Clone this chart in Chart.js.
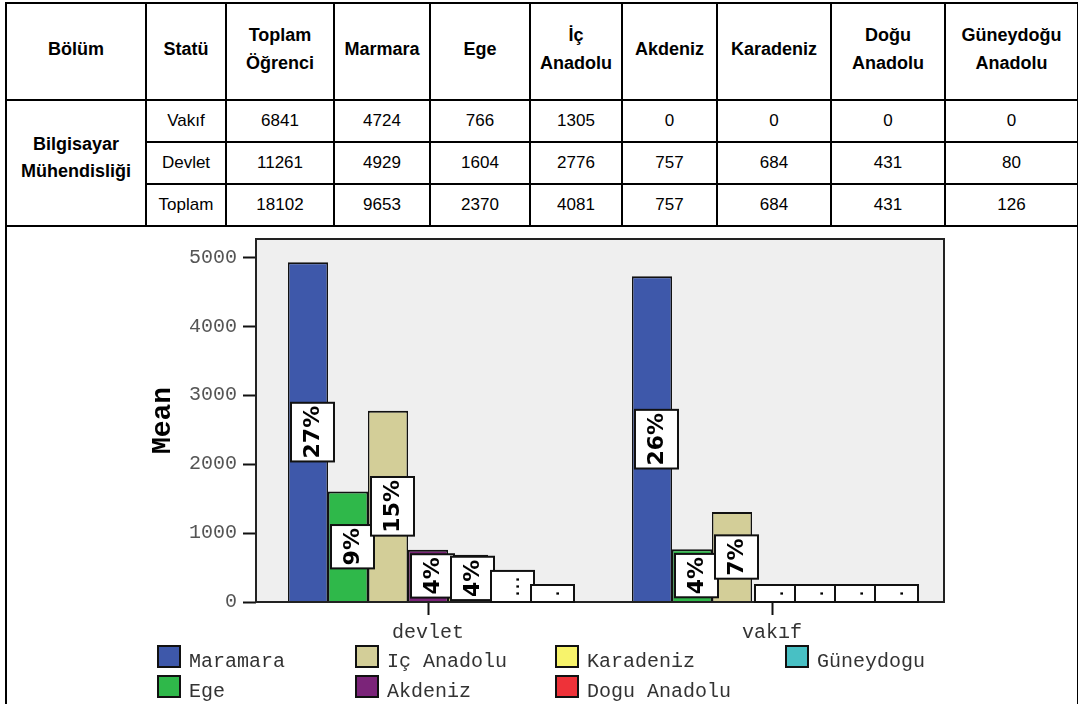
<!DOCTYPE html>
<html lang="tr">
<head>
<meta charset="UTF-8">
<title>Bilgisayar Mühendisliği - Bölgelere Göre Öğrenci</title>
<script src="https://cdn.jsdelivr.net/npm/chart.js"></script>
<style>
  body { margin: 0; background: #fff; width: 1078px; height: 704px; overflow: hidden; position: relative;
         font-family: "Liberation Sans", Arial, sans-serif; }
  table { position: absolute; left: 5px; top: 2px; border-collapse: collapse; table-layout: fixed; width: 1072px; }
  td, th { border: 2px solid #000; text-align: center; vertical-align: middle; font-size: 17px; padding: 0 3px;
           white-space: pre-line; color: #000; }
  th { font-weight: bold; font-size: 18px; line-height: 28px; height: 89px; padding-bottom: 6px; }
  td.bolum { font-weight: bold; font-size: 18px; line-height: 27px; padding-bottom: 10px; }
  tr.veri td { height: 40px; }
  td.grafik { height: 520px; border-bottom: none; }
  #grafikKutu { position: absolute; left: 116px; top: 227px; width: 856px; height: 477px; background: #fff; }
  #lejant { position: absolute; left: 157px; top: 645px; display: grid; grid-template-columns: 198px 200px 230px 200px;
            grid-template-rows: 30px 30px; grid-auto-flow: column;
            font-family: "Liberation Mono", "Courier New", monospace; font-size: 20px; color: #333; }
  #lejant div { display: flex; align-items: flex-start; height: 26px; }
  #lejant span.kutu { width: 24px; height: 23px; box-sizing: border-box; border: 2px solid #111; margin-right: 8px; }
  #lejant span.ad { position: relative; top: 5px; }
</style>
</head>
<body>
<table id="tablo">
  <colgroup>
    <col style="width:140px"><col style="width:80px"><col style="width:108px"><col style="width:96px"><col style="width:100px">
    <col style="width:92px"><col style="width:95px"><col style="width:114px"><col style="width:114px"><col style="width:133px">
  </colgroup>
  <thead><tr id="baslikSatiri"></tr></thead>
  <tbody id="govde"></tbody>
</table>
<div id="grafikKutu"><canvas id="bolgeGrafigi" width="856" height="477"></canvas></div>
<div id="lejant"></div>

<script>
  // Tablo verileri
  const basliklar = ['Bölüm', 'Statü', 'Toplam\nÖğrenci', 'Marmara', 'Ege', 'İç\nAnadolu', 'Akdeniz', 'Karadeniz', 'Doğu\nAnadolu', 'Güneydoğu\nAnadolu'];
  const bolumAdi = 'Bilgisayar\nMühendisliği';
  const statuAdlari = ['Vakıf', 'Devlet', 'Toplam'];
  // sütunlar: toplam öğrenci, sonra bölgeler
  const vakifSatir = [6841, 4724, 766, 1305, 0, 0, 0, 0];
  const devletSatir = [11261, 4929, 1604, 2776, 757, 684, 431, 80];
  const toplamSatir = [18102, 9653, 2370, 4081, 757, 684, 431, 126];

  // Grafik verileri
  const statuler = ['devlet', 'vakıf'];
  const bolgeler = ['Maramara', 'Ege', 'Iç Anadolu', 'Akdeniz', 'Karadeniz', 'Dogu Anadolu', 'Güneydogu'];
  const renkler = ['#3e58aa', '#2fb84a', '#d3ce98', '#7b2479', '#f7f36b', '#ee3239', '#48c0c4'];
  const yTikleri = [0, 1000, 2000, 3000, 4000, 5000];
  const genelToplam = toplamSatir[0];

  // Tabloyu oluştur
  const baslikSatiri = document.getElementById('baslikSatiri');
  basliklar.forEach(b => {
    const th = document.createElement('th');
    th.textContent = b;
    baslikSatiri.appendChild(th);
  });
  const govde = document.getElementById('govde');
  [vakifSatir, devletSatir, toplamSatir].forEach((satir, i) => {
    const tr = document.createElement('tr');
    tr.className = 'veri';
    if (i === 0) {
      const td = document.createElement('td');
      td.rowSpan = 3;
      td.className = 'bolum';
      td.textContent = bolumAdi;
      tr.appendChild(td);
    }
    [statuAdlari[i]].concat(satir).forEach(d => {
      const td = document.createElement('td');
      td.textContent = d;
      tr.appendChild(td);
    });
    govde.appendChild(tr);
  });
  const grafikSatiri = document.createElement('tr');
  const grafikHucresi = document.createElement('td');
  grafikHucresi.colSpan = 10;
  grafikHucresi.className = 'grafik';
  grafikSatiri.appendChild(grafikHucresi);
  govde.appendChild(grafikSatiri);

  // Lejant
  const lejant = document.getElementById('lejant');
  bolgeler.forEach((ad, i) => {
    const oge = document.createElement('div');
    const kutu = document.createElement('span');
    kutu.className = 'kutu';
    kutu.style.background = renkler[i];
    const yazi = document.createElement('span');
    yazi.className = 'ad';
    yazi.textContent = ad;
    oge.appendChild(kutu);
    oge.appendChild(yazi);
    lejant.appendChild(oge);
  });

  const mono = '"Liberation Mono", "Courier New", monospace';

  // Çizim alanı arka planı, çerçeve ve yüzde etiketleri
  const cerceveVeEtiketler = {
    id: 'cerceveVeEtiketler',
    beforeDatasetsDraw(chart) {
      const { ctx, chartArea: a } = chart;
      ctx.save();
      ctx.fillStyle = '#efefef';
      ctx.fillRect(a.left, a.top, a.right - a.left, a.bottom - a.top);
      ctx.restore();
    },
    afterDatasetsDraw(chart) {
      const { ctx, chartArea: a } = chart;
      ctx.save();
      ctx.strokeStyle = '#222';
      ctx.lineWidth = 2;
      ctx.strokeRect(a.left, a.top, a.right - a.left, a.bottom - a.top);

      const sifirY = chart.scales.y.getPixelForValue(0);
      ctx.font = 'bold 22px "DejaVu Sans"';
      chart.data.datasets.forEach((ds, i) => {
        chart.getDatasetMeta(i).data.forEach((bar, j) => {
          const deger = ds.data[j];
          const yukseklik = sifirY - bar.y;
          let metin = Math.round(deger / genelToplam * 100) + '%';
          if (ctx.measureText(metin).width + 6 > yukseklik + 4) {
            metin = yukseklik > 15 ? '...' : '.';
          }
          const uzunluk = Math.max(ctx.measureText(metin).width + 6, 17);
          const genislik = 43;
          const x = bar.x - bar.width / 2 + 3;
          let ust = (bar.y + sifirY) / 2 - uzunluk / 2;
          if (ust + uzunluk > sifirY) ust = sifirY - uzunluk;
          ctx.fillStyle = '#fff';
          ctx.fillRect(x, ust, genislik, uzunluk);
          ctx.strokeStyle = '#111';
          ctx.lineWidth = 2;
          ctx.strokeRect(x, ust, genislik, uzunluk);
          ctx.save();
          ctx.translate(x + genislik / 2, ust + uzunluk / 2);
          ctx.rotate(-Math.PI / 2);
          ctx.fillStyle = '#000';
          ctx.textAlign = 'center';
          ctx.textBaseline = 'middle';
          if (metin.indexOf('.') === 0) ctx.font = '22px "DejaVu Sans"';
          ctx.fillText(metin, 0, 1);
          ctx.font = 'bold 22px "DejaVu Sans"';
          ctx.restore();
        });
      });
      ctx.restore();
    }
  };

  const ctx = document.getElementById('bolgeGrafigi').getContext('2d');
  new Chart(ctx, {
    type: 'bar',
    data: {
      labels: statuler,
      datasets: bolgeler.map((ad, i) => ({
        label: ad,
        data: [devletSatir[i + 1], vakifSatir[i + 1]],
        backgroundColor: renkler[i],
        borderColor: '#111',
        borderWidth: { top: 2, left: 1.5, right: 1.5, bottom: 0 },
        borderSkipped: 'start',
        barPercentage: 1,
        categoryPercentage: 0.814
      }))
    },
    options: {
      responsive: false,
      animation: false,
      layout: { padding: { left: 0, top: 12, right: 28, bottom: 62 } },
      plugins: { legend: { display: false }, tooltip: { enabled: false } },
      scales: {
        x: {
          afterFit: s => { s.height = 40; s.paddingLeft = 0; s.paddingRight = 0; },
          grid: { offset: false, drawOnChartArea: false, tickLength: 13, tickWidth: 2, tickColor: '#111' },
          border: { display: false },
          ticks: { color: '#333', padding: 6, font: { family: mono, size: 20 } }
        },
        y: {
          min: 0,
          max: 5266,
          afterFit: s => { s.width = 140; s.paddingTop = 0; s.paddingBottom = 0; },
          afterBuildTicks: s => { s.ticks = yTikleri.map(v => ({ value: v })); },
          grid: { drawOnChartArea: false, tickLength: 13, tickWidth: 2, tickColor: '#111' },
          border: { display: false },
          ticks: { color: '#555', padding: 6, font: { family: mono, size: 20 }, callback: v => String(v) },
          title: { display: true, text: 'Mean', color: '#000', padding: { top: 30, bottom: 0 },
                   font: { family: mono, size: 28, weight: 'bold' } }
        }
      }
    },
    plugins: [cerceveVeEtiketler]
  });
</script>
</body>
</html>
